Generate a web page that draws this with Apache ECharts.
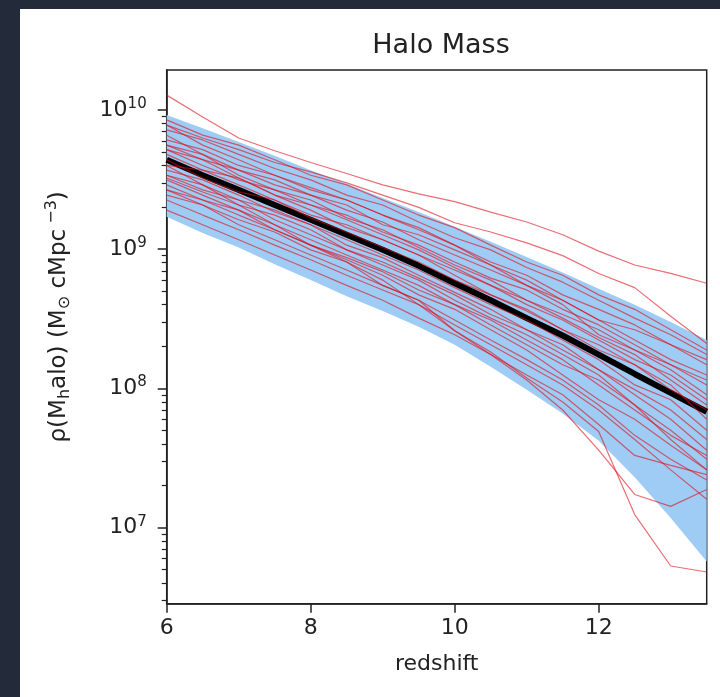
<!DOCTYPE html>
<html>
<head>
<meta charset="utf-8">
<script src="https://cdn.jsdelivr.net/npm/echarts@6/dist/echarts.min.js"></script>
<style>
  html, body { margin: 0; padding: 0; width: 720px; height: 697px; background: #232a3a; overflow: hidden; }
  #chart { position: absolute; left: 20px; top: 9px; width: 700px; height: 688px; background: #fff; }
</style>
</head>
<body>
<div id="chart"></div>
<script>
// redshift grid shared by every curve
const redshift = [6, 6.5, 7, 7.5, 8, 8.5, 9, 9.5, 10, 10.5, 11, 11.5, 12, 12.5, 13, 13.5];

// mean and spread of the model
const meanMass = [4.4e9, 3.4e9, 2.67e9, 2.08e9, 1.63e9, 1.27e9, 9.9e8, 7.6e8, 5.7e8, 4.3e8, 3.2e8, 2.4e8, 1.75e8, 1.27e8, 9.3e7, 6.8e7];
const bandHigh = [9.2e9, 7.4e9, 5.9e9, 4.7e9, 3.7e9, 2.95e9, 2.33e9, 1.85e9, 1.45e9, 1.13e9, 8.8e8, 6.8e8, 5.2e8, 4.0e8, 3.0e8, 2.23e8];
const bandLow = [1.71e9, 1.31e9, 1.03e9, 7.8e8, 6.0e8, 4.6e8, 3.6e8, 2.77e8, 2.06e8, 1.43e8, 9.8e7, 6.6e7, 4.2e7, 2.3e7, 1.17e7, 5.7e6];

// individual runs (red)
const run01 = [1.28e10, 8.9e9, 6.3e9, 5.1e9, 4.2e9, 3.5e9, 2.9e9, 2.5e9, 2.2e9, 1.85e9, 1.57e9, 1.27e9, 9.7e8, 7.7e8, 6.7e8, 5.7e8];
const run02 = [7.8e9, 6.3e9, 5.2e9, 4.2e9, 3.6e9, 3.0e9, 2.45e9, 2.0e9, 1.55e9, 1.33e9, 1.11e9, 9.0e8, 6.7e8, 5.3e8, 3.3e8, 2.1e8];
const run03 = [2.67e9, 2.08e9, 1.63e9, 1.33e9, 9.9e8, 8.1e8, 5.5e8, 4.3e8, 2.6e8, 1.83e8, 1.19e8, 8.0e7, 4.9e7, 1.24e7, 5.3e6, 4.8e6];
const run04 = [3.25e9, 2.58e9, 2.08e9, 1.5e9, 1.07e9, 8.1e8, 6.0e8, 4.0e8, 2.6e8, 1.75e8, 1.15e8, 7.0e7, 3.6e7, 1.73e7, 1.42e7, 1.88e7];
const run05 = [8.5e9, 6.6e9, 5.6e9, 4.4e9, 3.4e9, 2.9e9, 2.26e9, 1.76e9, 1.43e9, 1.07e9, 8.1e8, 6.5e8, 4.7e8, 3.7e8, 2.64e8, 1.89e8];
const run06 = [7.2e9, 6.1e9, 4.8e9, 3.8e9, 3.15e9, 2.45e9, 2.08e9, 1.57e9, 1.21e9, 9.9e8, 7.4e8, 5.8e8, 4.3e8, 3.2e8, 2.43e8, 1.75e8];
const run07 = [6.1e9, 5.2e9, 4.0e9, 3.4e9, 2.77e9, 2.26e9, 1.76e9, 1.43e9, 1.07e9, 8.1e8, 6.5e8, 4.7e8, 3.7e8, 2.86e8, 2.06e8, 1.48e8];
const run08 = [5.6e9, 4.4e9, 3.7e9, 2.9e9, 2.45e9, 1.91e9, 1.57e9, 1.17e9, 9.1e8, 7.1e8, 5.5e8, 4.3e8, 3.1e8, 2.23e8, 1.61e8, 1.25e8];
const run09 = [5.2e9, 4.0e9, 3.15e9, 2.67e9, 2.08e9, 1.76e9, 1.33e9, 1.07e9, 8.1e8, 6.2e8, 5.1e8, 3.7e8, 2.86e8, 2.06e8, 1.48e8, 1.06e8];
const run10 = [6.6e9, 4.8e9, 3.7e9, 3.15e9, 2.45e9, 2.08e9, 1.5e9, 1.27e9, 9.9e8, 7.7e8, 5.5e8, 4.0e8, 2.43e8, 1.89e8, 1.36e8, 9.0e7];
const run11 = [4.8e9, 3.7e9, 3.25e9, 2.45e9, 1.91e9, 1.43e9, 1.17e9, 9.1e8, 7.1e8, 5.5e8, 4.0e8, 3.1e8, 2.23e8, 1.61e8, 1.25e8, 8.3e7];
const run12 = [4.0e9, 3.7e9, 2.9e9, 2.26e9, 1.76e9, 1.5e9, 1.17e9, 9.1e8, 6.5e8, 4.7e8, 3.7e8, 2.64e8, 2.06e8, 1.48e8, 1.06e8, 6.0e7];
const run13 = [3.7e9, 3.15e9, 2.45e9, 1.85e9, 1.5e9, 1.17e9, 9.1e8, 7.1e8, 5.3e8, 4.0e8, 3.1e8, 2.23e8, 1.61e8, 1.06e8, 8.3e7, 5.0e7];
const run14 = [7.8e9, 5.6e9, 4.4e9, 3.4e9, 2.67e9, 2.26e9, 1.76e9, 1.38e9, 1.07e9, 7.7e8, 6.0e8, 4.3e8, 3.1e8, 2.64e8, 2.06e8, 1.61e8];
const run15 = [4.0e9, 2.9e9, 2.26e9, 1.91e9, 1.5e9, 1.07e9, 8.7e8, 6.5e8, 4.9e8, 3.7e8, 2.64e8, 2.06e8, 1.36e8, 9.0e7, 6.0e7, 3.6e7];
const run16 = [3.4e9, 2.67e9, 2.26e9, 1.63e9, 1.27e9, 9.9e8, 7.7e8, 6.0e8, 4.3e8, 3.2e8, 2.43e8, 1.75e8, 1.25e8, 7.6e7, 4.3e7, 2.6e7];
const run17 = [3.15e9, 2.45e9, 1.91e9, 1.5e9, 1.17e9, 9.1e8, 7.1e8, 5.5e8, 4.0e8, 3.1e8, 2.23e8, 1.61e8, 1.06e8, 7.0e7, 4.6e7, 3.3e7];
const run18 = [2.9e9, 2.26e9, 1.76e9, 1.38e9, 1.07e9, 8.4e8, 6.5e8, 4.7e8, 3.7e8, 2.64e8, 1.89e8, 1.25e8, 8.3e7, 6.0e7, 3.9e7, 2.6e7];
const run19 = [2.45e9, 2.08e9, 1.5e9, 1.17e9, 9.1e8, 7.1e8, 5.5e8, 4.3e8, 3.1e8, 2.23e8, 1.61e8, 1.15e8, 7.6e7, 4.6e7, 3.1e7, 2.2e7];
const run20 = [2.26e9, 1.76e9, 1.38e9, 1.07e9, 8.4e8, 6.5e8, 5.1e8, 4.0e8, 2.86e8, 2.06e8, 1.48e8, 1.06e8, 7.0e7, 4.3e7, 2.6e7, 1.6e7];
const run21 = [1.91e9, 1.5e9, 1.17e9, 9.1e8, 7.1e8, 5.5e8, 4.3e8, 3.2e8, 2.43e8, 1.75e8, 1.25e8, 9.0e7, 5.5e7, 3.3e7, 2.8e7, 2.4e7];
const run22 = [3.4e9, 2.9e9, 2.08e9, 1.76e9, 1.38e9, 9.9e8, 8.1e8, 6.2e8, 4.7e8, 3.4e8, 2.64e8, 1.89e8, 1.36e8, 9.8e7, 7.0e7, 4.3e7];
const run23 = [5.2e9, 4.4e9, 3.25e9, 2.45e9, 2.08e9, 1.63e9, 1.27e9, 9.9e8, 7.4e8, 5.5e8, 4.3e8, 3.4e8, 2.64e8, 1.89e8, 1.48e8, 1.15e8];
const run24 = [4.4e9, 3.25e9, 2.58e9, 2.26e9, 1.68e9, 1.33e9, 1.03e9, 8.1e8, 6.0e8, 4.7e8, 3.6e8, 2.64e8, 1.89e8, 1.48e8, 9.8e7, 7.0e7];
const run25 = [2.67e9, 2.26e9, 1.91e9, 1.38e9, 1.07e9, 8.7e8, 6.9e8, 5.1e8, 4.0e8, 2.86e8, 2.06e8, 1.48e8, 1.15e8, 7.6e7, 5.0e7, 3.1e7];
const run26 = [5.6e9, 4.8e9, 3.4e9, 2.67e9, 2.26e9, 1.68e9, 1.38e9, 1.03e9, 7.7e8, 6.0e8, 4.3e8, 3.2e8, 2.32e8, 1.75e8, 1.15e8, 7.6e7];
const runs = [run01, run02, run03, run04, run05, run06, run07, run08, run09, run10, run11, run12, run13,
              run14, run15, run16, run17, run18, run19, run20, run21, run22, run23, run24, run25, run26];

// ticks
const xTicks = [6, 8, 10, 12];
const yTicks = [1e7, 1e8, 1e9, 1e10];

const FONT = 'DejaVu Sans';
const INK = '#222';
const pairs = ys => redshift.map((x, i) => [x, ys[i]]);

let chart = echarts.init(document.getElementById('chart'));

let series = [
  {
    // shaded spread: upper edge left->right, lower edge back right->left
    type: 'custom',
    data: [[redshift[0], bandLow[0]]],
    renderItem: (params, api) => {
      const top = redshift.map((x, i) => api.coord([x, bandHigh[i]]));
      const bottom = redshift.map((x, i) => api.coord([x, bandLow[i]])).reverse();
      return {
        type: 'polygon',
        shape: { points: top.concat(bottom) },
        style: { fill: '#9fccf5' }
      };
    }
  },
  {
    type: 'line', data: pairs(meanMass), symbol: 'none',
    lineStyle: { color: '#000', width: 6 }
  }
];
runs.forEach(r => {
  series.push({
    type: 'line', data: pairs(r), symbol: 'none',
    lineStyle: { color: 'rgba(222, 12, 24, 0.6)', width: 1.2 }
  });
});

chart.setOption({
  animation: false,
  title: {
    text: 'Halo Mass',
    left: 416, top: 18, textAlign: 'center',
    textStyle: { fontFamily: FONT, fontSize: 27, fontWeight: 'normal', color: INK }
  },
  grid: {
    left: 146.7, right: 13.3, top: 61, bottom: 93.3,
    show: true, borderColor: INK, borderWidth: 1.5, backgroundColor: 'transparent'
  },
  xAxis: {
    type: 'value', min: 6, max: 13.5,
    axisLine: { show: true, lineStyle: { color: INK, width: 1.5 } },
    axisTick: { show: true, length: 9, customValues: xTicks, lineStyle: { color: INK, width: 1.5 } },
    axisLabel: { customValues: xTicks, margin: 14, fontFamily: FONT, fontSize: 22, color: INK },
    splitLine: { show: false },
    name: 'redshift', nameLocation: 'middle', nameGap: 50,
    nameTextStyle: { fontFamily: FONT, fontSize: 22, color: INK }
  },
  yAxis: {
    type: 'log', logBase: 10, min: 2.84e6, max: 1.94e10,
    axisLine: { show: true, lineStyle: { color: INK, width: 1.5 } },
    axisTick: { show: true, length: 9, customValues: yTicks, lineStyle: { color: INK, width: 1.5 } },
    minorTick: { show: true, splitNumber: 9, length: 5, lineStyle: { color: INK, width: 1.2 } },
    axisLabel: {
      customValues: yTicks, margin: 20,
      formatter: v => '{b|10}{s|' + Math.round(Math.log10(v)) + '}',
      rich: {
        b: { fontFamily: FONT, fontSize: 22, color: INK },
        s: { fontFamily: FONT, fontSize: 15, color: INK, padding: [0, 0, 12, 0] }
      }
    },
    splitLine: { show: false },
    minorSplitLine: { show: false },
    name: '{n|ρ(M}{sb|h}{n|alo) (M}{sb|⊙}{n| cMpc}{sp| −3}{n|)}',
    nameLocation: 'middle', nameGap: 93, nameRotate: 90,
    nameTextStyle: {
      padding: [0, 0, 0, 40],
      rich: {
        n: { fontFamily: FONT, fontSize: 23, color: INK },
        sb: { fontFamily: FONT, fontSize: 16, color: INK, padding: [12, 0, 0, 0] },
        sp: { fontFamily: FONT, fontSize: 16, color: INK, padding: [0, 0, 14, 0] }
      }
    }
  },
  series: series
});
</script>
</body>
</html>
